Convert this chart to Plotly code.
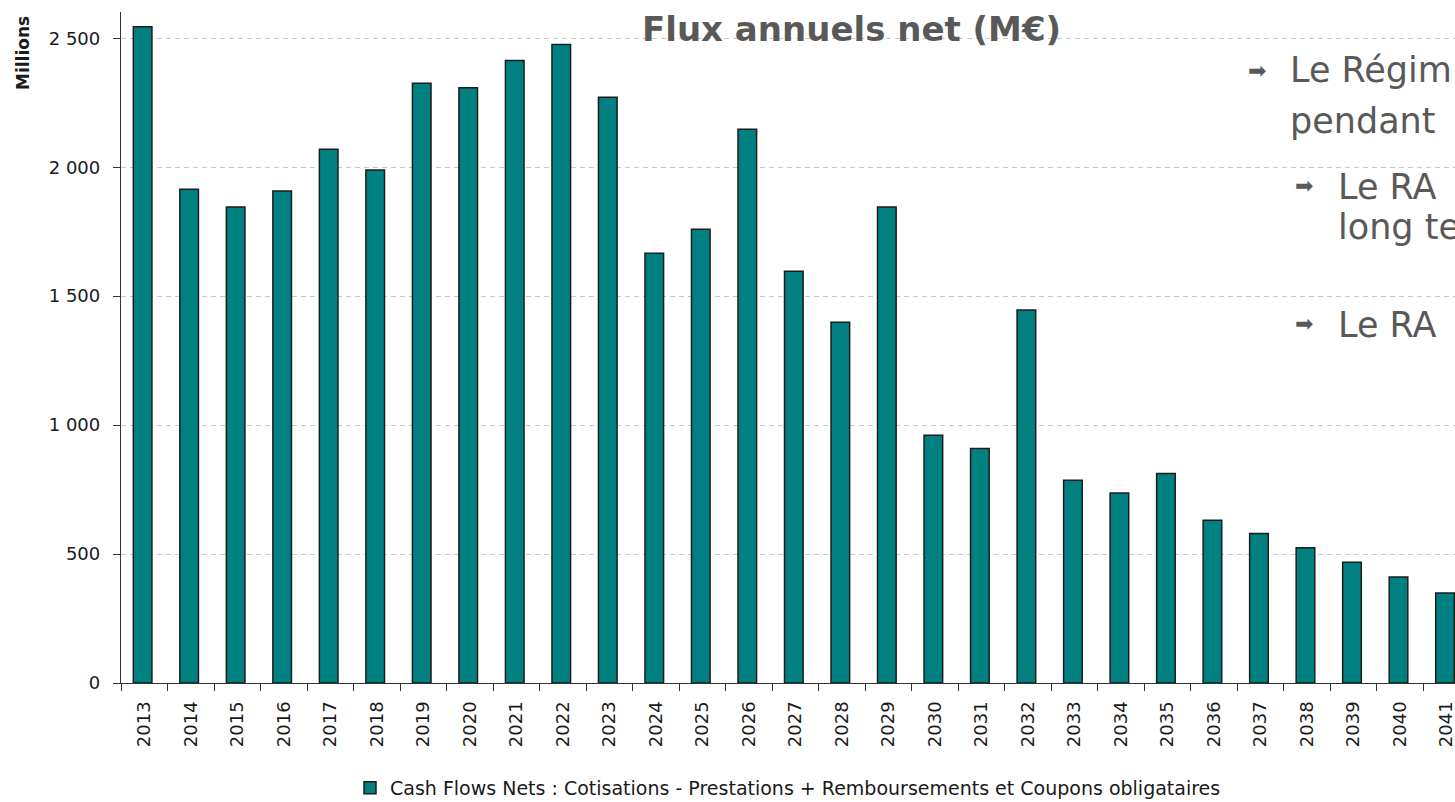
import plotly.graph_objects as go

years = [str(y) for y in range(2013, 2042)]
cash_flows = [2545, 1915, 1846, 1908, 2070, 1989, 2326, 2308, 2414, 2476, 2271,
              1666, 1760, 2147, 1597, 1399, 1846, 961, 909, 1446, 786, 737, 812,
              631, 580, 524, 468, 411, 349]
y_ticks = [0, 500, 1000, 1500, 2000, 2500]
series_name = "Cash Flows Nets : Cotisations - Prestations + Remboursements et Coupons obligataires"
title_text = "Flux annuels net (M€)"
side_lines = ["Le Régim", "pendant", "Le RA", "long te", "Le RA"]

W, H = 1455, 802
L, R, T, B = 121, 0, 12, 119
PW, PH = W - L - R, H - T - B


def px(x):
    return (x - L) / PW


def py(y):
    return (H - B - y) / PH


fig = go.Figure()
fig.add_trace(go.Bar(
    x=years, y=cash_flows, name=series_name,
    width=0.4, offset=-0.235,
    marker=dict(color="#008080", line=dict(color="#1c1c1c", width=1.5)),
    showlegend=True,
))

shapes = [
    dict(type="rect", xref="paper", yref="paper", x0=px(615), x1=px(1087), y0=py(62), y1=py(6),
         fillcolor="white", line=dict(width=0), layer="between"),
    dict(type="rect", xref="paper", yref="paper", x0=px(883), x1=px(940), y0=py(175), y1=py(158),
         fillcolor="white", line=dict(width=0), layer="between"),
    dict(type="rect", xref="paper", yref="paper", x0=px(1225), x1=px(1470), y0=py(490), y1=py(14),
         fillcolor="white", line=dict(width=0), layer="between"),
]

grey = "#595959"
ann = []
ann.append(dict(text="<b>" + title_text + "</b>", x=px(851), y=py(29), xref="paper", yref="paper",
                xanchor="center", yanchor="middle", showarrow=False,
                font=dict(family="DejaVu Sans", size=34, color=grey)))
ann.append(dict(text="<b>Millions</b>", x=px(23), y=py(53), xref="paper", yref="paper",
                xanchor="center", yanchor="middle", showarrow=False, textangle=-90,
                font=dict(family="DejaVu Sans", size=17, color="#1a1a1a")))

side_pos = [(1288, 70), (1288, 121), (1336, 187), (1336, 227), (1336, 325)]
for t, (x, y) in zip(side_lines, side_pos):
    ann.append(dict(text=t, x=px(x), y=py(y), xref="paper", yref="paper",
                    xanchor="left", yanchor="middle", showarrow=False,
                    font=dict(family="DejaVu Sans", size=35, color=grey)))
for (x, y) in [(1257, 71), (1304, 185), (1304, 324)]:
    ann.append(dict(text="➡", x=px(x), y=py(y), xref="paper", yref="paper",
                    xanchor="center", yanchor="middle", showarrow=False,
                    font=dict(family="DejaVu Sans", size=22, color=grey)))

fig.update_layout(
    width=W, height=H,
    margin=dict(l=L, r=R, t=T, b=B, pad=0, autoexpand=False),
    paper_bgcolor="white", plot_bgcolor="white",
    separators=", ",
    font=dict(family="DejaVu Sans", size=18, color="#1a1a1a"),
    shapes=shapes, annotations=ann,
    bargap=0.6,
    legend=dict(orientation="h", x=0.5, xanchor="center", y=py(788), yanchor="middle",
                font=dict(family="DejaVu Sans", size=19, color="#1a1a1a"),
                bgcolor="rgba(0,0,0,0)"),
    showlegend=True,
)
fig.update_xaxes(
    type="category", range=[-0.5, 28.18], automargin=False,
    showline=True, linecolor="#333333", linewidth=1.3,
    ticks="outside", ticklen=7, tickcolor="#333333", tickwidth=1.3,
    tickson="boundaries", tickangle=-90, ticklabelstandoff=10,
    tickfont=dict(family="DejaVu Sans", size=18, color="#1a1a1a"),
    showgrid=False, zeroline=False,
)
fig.update_yaxes(
    range=[0, 2602], tickvals=y_ticks, tickformat=",d", automargin=False,
    showline=True, linecolor="#333333", linewidth=1.3,
    ticks="outside", ticklen=7, tickcolor="#333333", tickwidth=1.3,
    tickfont=dict(family="DejaVu Sans", size=18, color="#1a1a1a"),
    showgrid=True, gridcolor="#c8c8c8", gridwidth=1, griddash="5px,4px",
    zeroline=False, ticklabelstandoff=9,
)

fig.write_html("out.html", config={"displayModeBar": False},
               post_script="document.body.style.margin='0px';document.body.style.overflow='hidden';")
